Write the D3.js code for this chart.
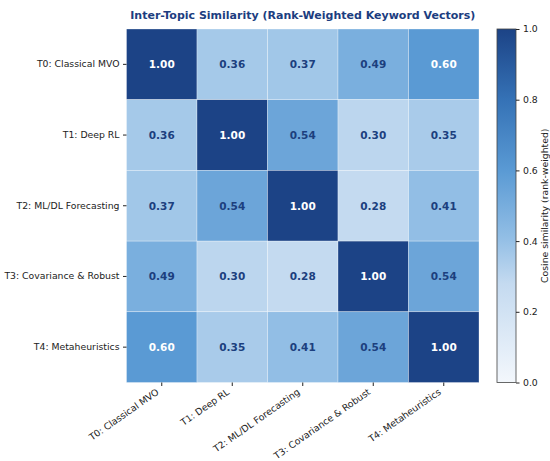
<!DOCTYPE html>
<html>
<head>
<meta charset="utf-8">
<script src="https://cdn.jsdelivr.net/npm/d3@7"></script>
<style>
  body { margin: 0; background: #fff; }
  svg { display: block; font-family: "DejaVu Sans", sans-serif; }
  .axis path { display: none; }
  .axis line { stroke: #222; }
  .axis text { fill: #222; font-size: 9.3px; font-family: "DejaVu Sans", sans-serif; }
</style>
</head>
<body>
<svg width="550" height="461"></svg>
<script>
// Data.
var topics = [
    "T0: Classical MVO"
  , "T1: Deep RL"
  , "T2: ML/DL Forecasting"
  , "T3: Covariance & Robust"
  , "T4: Metaheuristics"
];
var similarity = [
    [1.00, 0.36, 0.37, 0.49, 0.60]
  , [0.36, 1.00, 0.54, 0.30, 0.35]
  , [0.37, 0.54, 1.00, 0.28, 0.41]
  , [0.49, 0.30, 0.28, 1.00, 0.54]
  , [0.60, 0.35, 0.41, 0.54, 1.00]
];
var colorbarTicks = [0.0, 0.2, 0.4, 0.6, 0.8, 1.0];

// Configuration parameters.
var heat = { left: 126.5, top: 29, width: 352.5, height: 353.5 }
  , bar = { left: 497, width: 19 }
  , tickLen = 3.5
  , tickPad = 3.5
  , labelAngle = 35
  , darkText = "#1c3f7e"
  , whiteAbove = 0.55
  // Blues-like ramp
  , stopValues = [0, 0.28, 0.41, 0.6, 0.8, 1]
  , stopColors = ["#f3f7fc", "#c4daf0", "#92bee5", "#5a9ad4", "#3572b6", "#1c4386"]
;

var svg = d3.select("svg")
  , g = svg.append("g")
        .attr("transform", "translate(" + [heat.left, heat.top] + ")")
;

// D3 Objects.
var xScale = d3.scaleBand().domain(d3.range(topics.length)).range([0, heat.width])
  , yScale = d3.scaleBand().domain(d3.range(topics.length)).range([0, heat.height])
  , colorScale = d3.scaleLinear()
        .domain(stopValues)
        .range(stopColors)
        .interpolate(d3.interpolateRgb)
  , barScale = d3.scaleLinear().domain([0, 1]).range([heat.height, 0])
;

// Flatten the matrix into cells
var cells = [];
similarity.forEach(function(row, i) {
    row.forEach(function(v, j) { cells.push({ row: i, col: j, value: v }); });
});

// Render the grid
g.selectAll("rect.cell")
    .data(cells)
  .enter().append("rect")
    .attr("class", "cell")
    .attr("x", function(d) { return xScale(d.col); })
    .attr("y", function(d) { return yScale(d.row); })
    .attr("width", xScale.bandwidth())
    .attr("height", yScale.bandwidth())
    .attr("fill", function(d) { return colorScale(d.value); })
    .attr("stroke", "#fff")
    .attr("stroke-opacity", 0.6)
    .attr("stroke-width", 0.5)
;

g.selectAll("text.value")
    .data(cells)
  .enter().append("text")
    .attr("class", "value")
    .attr("x", function(d) { return xScale(d.col) + xScale.bandwidth() / 2; })
    .attr("y", function(d) { return yScale(d.row) + yScale.bandwidth() / 2; })
    .attr("text-anchor", "middle")
    .attr("dy", "0.36em")
    .style("font-size", "10.5px")
    .style("font-weight", "bold")
    .attr("fill", function(d) { return d.value > whiteAbove ? "#fff" : darkText; })
    .text(function(d) { return d.value.toFixed(2); })
;

// Y axis
var yAxisG = g.append("g")
    .attr("class", "axis")
    .call(d3.axisLeft(yScale)
        .tickSize(tickLen)
        .tickPadding(tickPad)
        .tickFormat(function(i) { return topics[i]; }));

// X axis, labels rotated and right-aligned to the tick
var xAxisG = g.append("g")
    .attr("class", "axis")
    .attr("transform", "translate(0," + heat.height + ")")
    .call(d3.axisBottom(xScale)
        .tickSize(tickLen)
        .tickFormat(function(i) { return topics[i]; }));

var rad = labelAngle * Math.PI / 180;
xAxisG.selectAll(".tick text")
    .attr("text-anchor", "end")
    .attr("dy", "0.78em")
    .attr("y", 0)
    .attr("transform", "translate(" + [-11 * Math.sin(rad), tickLen + 1.5] + ") rotate(" + (-labelAngle) + ")")
;

// Title
svg.append("text")
    .attr("x", heat.left + heat.width / 2)
    .attr("y", 19)
    .attr("text-anchor", "middle")
    .style("font-size", "11px")
    .style("font-weight", "bold")
    .attr("fill", "#1c3d80")
    .text("Inter-Topic Similarity (Rank-Weighted Keyword Vectors)");

// Colorbar
var defs = svg.append("defs")
  , grad = defs.append("linearGradient")
        .attr("id", "cbar")
        .attr("x1", 0).attr("y1", 1).attr("x2", 0).attr("y2", 0)
;
grad.selectAll("stop")
    .data(stopValues)
  .enter().append("stop")
    .attr("offset", function(d) { return d; })
    .attr("stop-color", function(d) { return colorScale(d); });

var barG = svg.append("g")
    .attr("transform", "translate(" + [bar.left, heat.top] + ")");

barG.append("rect")
    .attr("width", bar.width)
    .attr("height", heat.height)
    .attr("fill", "url(#cbar)")
    .attr("stroke", "#444")
    .attr("stroke-width", 0.8);

barG.append("g")
    .attr("class", "axis")
    .attr("transform", "translate(" + bar.width + ",0)")
    .call(d3.axisRight(barScale)
        .tickValues(colorbarTicks)
        .tickSize(tickLen)
        .tickPadding(tickPad)
        .tickFormat(d3.format(".1f")));

svg.append("text")
    .attr("transform", "translate(" + [545, heat.top + heat.height / 2] + ") rotate(-90)")
    .attr("text-anchor", "middle")
    .attr("dy", "0.35em")
    .style("font-size", "9.3px")
    .attr("fill", "#222")
    .text("Cosine similarity (rank-weighted)");
</script>
</body>
</html>
